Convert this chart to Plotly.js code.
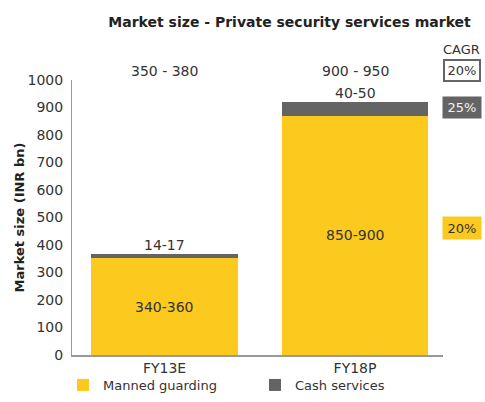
<!DOCTYPE html>
<html>
<head>
<meta charset="utf-8">
<script src="https://cdn.plot.ly/plotly-3.0.1.min.js"></script>
<style>html,body{margin:0;padding:0;background:#fff;}#chart{width:485px;height:402px;}</style>
</head>
<body>
<div id="chart"></div>
<script>
const categories = ['FY13E', 'FY18P'];
const mannedGuarding = [352, 870];
const cashServices = [16, 51];
const mannedLabels = ['340-360', '850-900'];
const cashLabels = ['14-17', '40-50'];
const totalLabels = ['350 - 380', '900 - 950'];
const cagrLabels = ['20%', '25%', '20%'];

const FONT = 'DejaVu Sans, Verdana, sans-serif';
const TXT = '#333333';
const YELLOW = '#FCC91F';
const GRAY = '#646464';
const FS = 14;

const traces = [
  {type: 'bar', name: 'Manned guarding', x: categories, y: mannedGuarding,
   marker: {color: YELLOW}, hoverinfo: 'none', legend: 'legend'},
  {type: 'bar', name: 'Cash services', x: categories, y: cashServices,
   marker: {color: GRAY}, hoverinfo: 'none', legend: 'legend2'}
];

const annotations = [];
categories.forEach((c, i) => {
  annotations.push({x: c, y: mannedGuarding[i] / 2, xref: 'x', yref: 'y', text: mannedLabels[i],
    showarrow: false, font: {family: FONT, size: FS, color: TXT}});
  annotations.push({x: c, y: mannedGuarding[i] + cashServices[i], xref: 'x', yref: 'y', text: cashLabels[i],
    showarrow: false, yanchor: 'bottom', yshift: -1, font: {family: FONT, size: FS, color: TXT}});
  annotations.push({x: c, y: 1, xref: 'x', yref: 'paper', text: totalLabels[i],
    showarrow: false, yanchor: 'middle', yshift: 9, font: {family: FONT, size: FS, color: TXT}});
});
const CX = 1.05;
annotations.push({x: CX, y: 1, xref: 'paper', yref: 'paper', xanchor: 'center', yanchor: 'middle',
  text: 'CAGR', showarrow: false, yshift: 31, font: {family: FONT, size: 13, color: TXT}});
annotations.push({x: CX, y: 1, xref: 'paper', yref: 'paper', xanchor: 'center', yanchor: 'middle',
  text: cagrLabels[0], showarrow: false,
  yshift: 9.5, width: 34, height: 19, bgcolor: '#ffffff', bordercolor: '#666666', borderwidth: 2, borderpad: 0,
  font: {family: FONT, size: 13, color: TXT}});
annotations.push({x: CX, y: mannedGuarding[1] + cashServices[1] / 2 + 5, xref: 'paper', yref: 'y',
  xanchor: 'center', yanchor: 'middle', text: cagrLabels[1], showarrow: false,
  width: 38, height: 21, bgcolor: GRAY, borderpad: 0,
  font: {family: FONT, size: 13, color: '#f2f2f2'}});
annotations.push({x: CX, y: 462, xref: 'paper', yref: 'y', xanchor: 'center', yanchor: 'middle',
  text: cagrLabels[2], showarrow: false,
  width: 38, height: 22, bgcolor: YELLOW, borderpad: 0,
  font: {family: FONT, size: 13, color: TXT}});

const legendBase = {orientation: 'h', xref: 'container', yref: 'container', xanchor: 'left',
  y: (402 - 385) / 402, yanchor: 'middle', bgcolor: 'rgba(0,0,0,0)',
  font: {family: FONT, size: 13, color: TXT}};

const layout = {
  width: 485, height: 402,
  margin: {l: 72, r: 42, t: 80, b: 47, autoexpand: false},
  paper_bgcolor: '#ffffff', plot_bgcolor: '#ffffff',
  barmode: 'stack', bargap: 0.23,
  title: {text: '<b>Market size - Private security services market</b>', x: 0.597, xanchor: 'center',
    xref: 'container', yref: 'container',
    y: 1 - 22 / 402, yanchor: 'middle', font: {family: FONT, size: 14, color: '#222222'}},
  xaxis: {type: 'category', range: [-0.486, 1.462], showline: true, linecolor: '#999999', linewidth: 1.5, ticks: '', automargin: false,
    tickfont: {family: FONT, size: FS, color: TXT}, showgrid: false, zeroline: false},
  yaxis: {range: [0, 1000], dtick: 100, showline: true, linecolor: '#999999', linewidth: 1, ticks: '', automargin: true,
    showgrid: false, zeroline: false, ticklabelstandoff: 5,
    tickfont: {family: FONT, size: FS, color: TXT},
    title: {text: '<b>Market size (INR bn)</b>', standoff: 0, font: {family: FONT, size: 13, color: '#222222'}}},
  showlegend: true,
  legend: Object.assign({}, legendBase, {x: 63 / 485}),
  legend2: Object.assign({}, legendBase, {x: 255 / 485}),
  annotations: annotations
};

Plotly.newPlot('chart', traces, layout, {displayModeBar: false, staticPlot: true});
</script>
</body>
</html>
